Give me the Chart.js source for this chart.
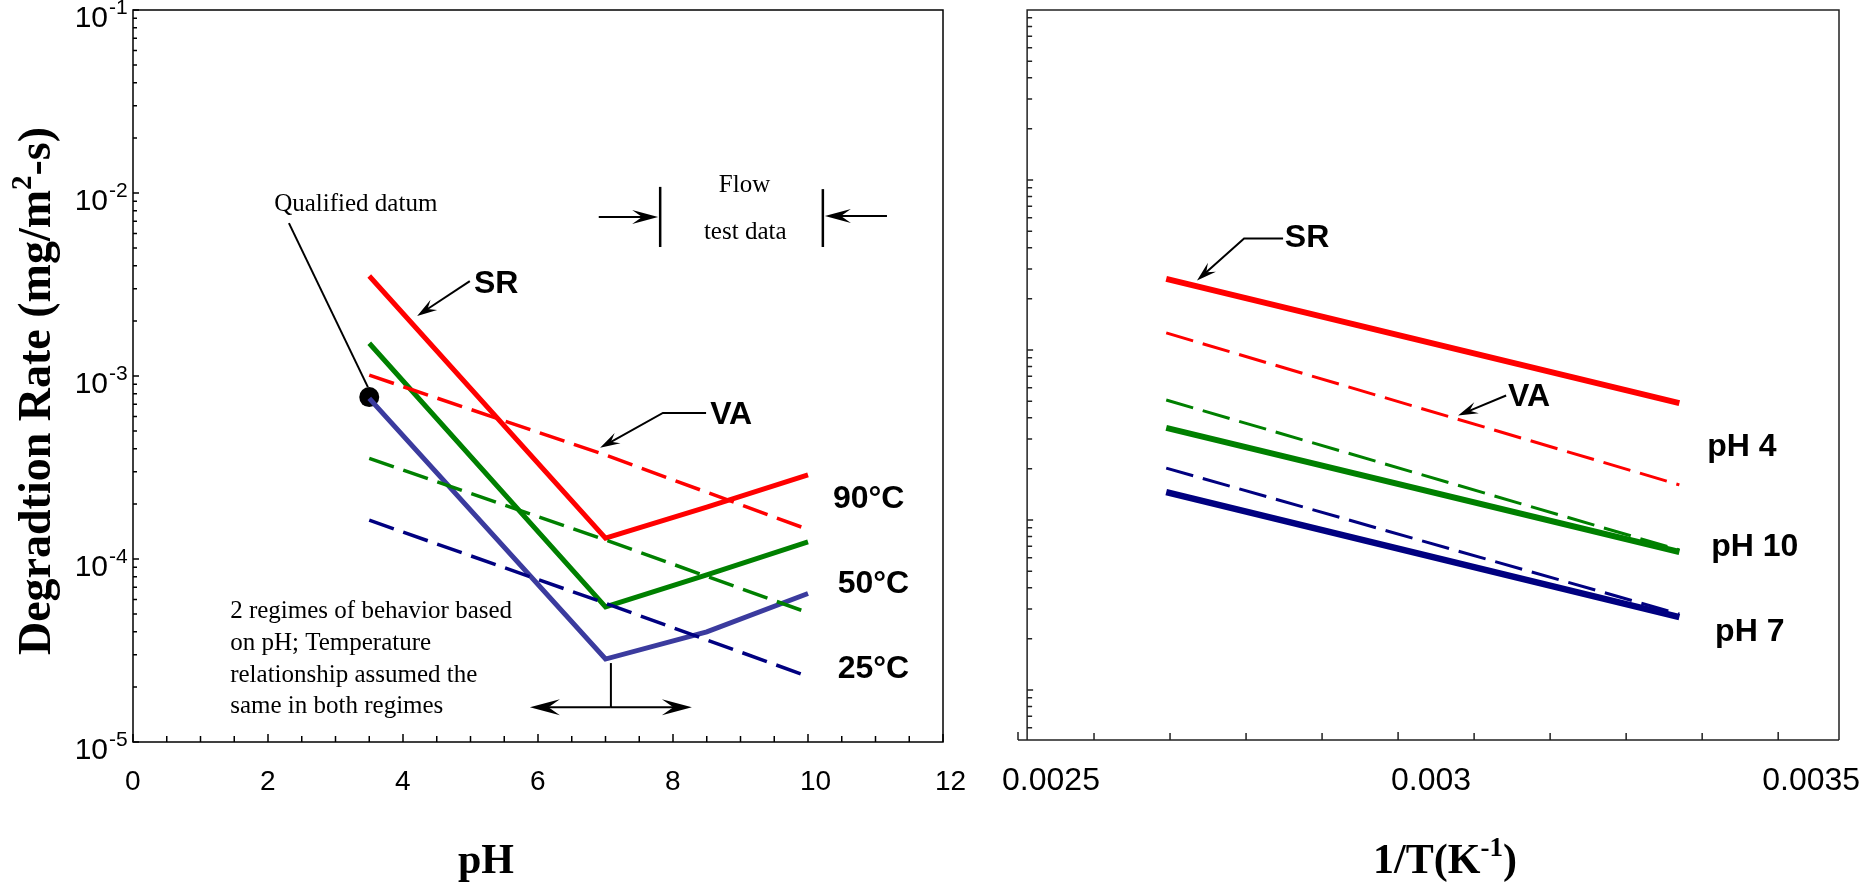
<!DOCTYPE html>
<html>
<head>
<meta charset="utf-8">
<script src="https://cdn.jsdelivr.net/npm/chart.js@4.4.1/dist/chart.umd.min.js"></script>
<style>
  html, body { margin: 0; padding: 0; background: #fff; }
  #wrap { position: relative; width: 1873px; height: 882px; }
  canvas { position: absolute; top: 0; }
  #phChart { left: 0; }
  #tempChart { left: 980px; }
</style>
</head>
<body>
<div id="wrap">
  <canvas id="phChart" width="980" height="882"></canvas>
  <canvas id="tempChart" width="893" height="882"></canvas>
</div>
<script>
// ===== DATA : left panel, rate vs pH =====
const srPh = [3.5, 7.0, 8.5, 10.0];
const sr90 = [3.52e-3, 1.30e-4, 1.92e-4, 2.88e-4];
const sr50 = [1.51e-3, 5.48e-5, 8.2e-5, 1.24e-4];
const sr25 = [7.55e-4, 2.84e-5, 4.0e-5, 6.48e-5];
const vaPh = [3.5, 7.0, 10.0];
const va90 = [1.01e-3, 3.70e-4, 1.45e-4];
const va50 = [3.55e-4, 1.27e-4, 5.09e-5];
const va25 = [1.63e-4, 5.73e-5, 2.28e-5];
const datumPh = [3.5];
const datumRate = [7.67e-4];

// ===== DATA : right panel, rate vs 1/T =====
const invT = [0.002695, 0.00337];
const srPh4 = [2.62e-3, 4.87e-4];
const vaPh4 = [1.26e-3, 1.61e-4];
const srPh10 = [3.48e-4, 6.48e-5];
const vaPh10 = [5.08e-4, 6.66e-5];
const srPh7 = [1.46e-4, 2.68e-5];
const vaPh7 = [2.02e-4, 2.80e-5];

// ===== TICK LABELS =====
const phTickLabels = ['0', '2', '4', '6', '8', '10', '12'];
const invTTickLabels = ['0.0025', '0.003', '0.0035'];
const rateExponents = ['-1', '-2', '-3', '-4', '-5'];

const SANS = '"Liberation Sans", Arial, sans-serif';
const SERIF = '"Liberation Serif", "Times New Roman", serif';
const RED = '#ff0000', GREEN = '#008000', SLATE = '#3b3b9e', NAVY = '#000080';

function pts(xs, ys) {
    return xs.map((x, i) => ({ x: x, y: ys[i] }));
}

function line(xs, ys, color, width, dash) {
    return {
        data: pts(xs, ys),
        showLine: true,
        borderColor: color,
        backgroundColor: color,
        borderWidth: width,
        borderDash: dash || [],
        pointRadius: 0,
        tension: 0
    };
}

function drawRich(ctx, parts, x, y, align) {
    let w = 0;
    parts.forEach(p => { ctx.font = p.font; p.w = ctx.measureText(p.t).width; w += p.w; });
    let cx = align === 'center' ? x - w / 2 : (align === 'right' ? x - w : x);
    ctx.textAlign = 'left';
    parts.forEach(p => { ctx.font = p.font; ctx.fillText(p.t, cx, y + (p.dy || 0)); cx += p.w; });
}

function arrowHead(ctx, x0, y0, x1, y1, len, half) {
    const a = Math.atan2(y1 - y0, x1 - x0);
    ctx.save();
    ctx.translate(x1, y1);
    ctx.rotate(a);
    ctx.beginPath();
    ctx.moveTo(0, 0);
    ctx.lineTo(-len, -half);
    ctx.lineTo(-len * 0.62, 0);
    ctx.lineTo(-len, half);
    ctx.closePath();
    ctx.fill();
    ctx.restore();
}

function drawNotes(chart, notes) {
    const { ctx, scales: { x, y } } = chart;
    ctx.save();
    ctx.fillStyle = '#000';
    ctx.strokeStyle = '#000';
    notes.forEach(n => {
        if (n.kind === 'text') {
            ctx.font = n.font;
            ctx.textAlign = n.align || 'left';
            ctx.textBaseline = 'alphabetic';
            ctx.fillText(n.text, x.getPixelForValue(n.x), y.getPixelForValue(n.y));
        } else {
            const p = n.pts.map(q => [x.getPixelForValue(q[0]), y.getPixelForValue(q[1])]);
            const last = p.length - 1;
            let ex = p[last][0], ey = p[last][1];
            if (n.head) {
                const dx = p[last][0] - p[last - 1][0], dy = p[last][1] - p[last - 1][1];
                const d = Math.hypot(dx, dy);
                ex -= dx / d * n.head[0] * 0.6;
                ey -= dy / d * n.head[0] * 0.6;
            }
            ctx.lineWidth = n.w;
            ctx.beginPath();
            ctx.moveTo(p[0][0], p[0][1]);
            for (let i = 1; i < last; i++) ctx.lineTo(p[i][0], p[i][1]);
            ctx.lineTo(ex, ey);
            ctx.stroke();
            if (n.head) arrowHead(ctx, p[last - 1][0], p[last - 1][1], p[last][0], p[last][1], n.head[0], n.head[1]);
        }
    });
    ctx.restore();
}

// ===== ANNOTATIONS (data coordinates) =====
const leftNotes = [
    { kind: 'text', x: 3.30, y: 7.98e-3, text: 'Qualified datum', font: '25px ' + SERIF, align: 'center' },
    { kind: 'path', pts: [[2.31, 6.85e-3], [3.48, 8.7e-4]], w: 2 },
    { kind: 'text', x: 5.05, y: 2.84e-3, text: 'SR', font: 'bold 32px ' + SANS },
    { kind: 'path', pts: [[4.99, 3.30e-3], [4.21, 2.13e-3]], w: 2, head: [20, 6] },
    { kind: 'text', x: 8.55, y: 5.47e-4, text: 'VA', font: 'bold 32px ' + SANS },
    { kind: 'path', pts: [[8.49, 6.28e-4], [7.85, 6.28e-4], [6.92, 4.05e-4]], w: 2, head: [20, 6] },
    { kind: 'text', x: 9.06, y: 1.01e-2, text: 'Flow', font: '25px ' + SERIF, align: 'center' },
    { kind: 'text', x: 9.07, y: 5.61e-3, text: 'test data', font: '25px ' + SERIF, align: 'center' },
    { kind: 'path', pts: [[7.81, 1.08e-2], [7.81, 5.07e-3]], w: 2.5 },
    { kind: 'path', pts: [[10.22, 1.05e-2], [10.22, 5.07e-3]], w: 2.5 },
    { kind: 'path', pts: [[6.90, 7.40e-3], [7.78, 7.40e-3]], w: 2, head: [26, 7] },
    { kind: 'path', pts: [[11.17, 7.48e-3], [10.25, 7.48e-3]], w: 2, head: [26, 7] },
    { kind: 'text', x: 10.37, y: 1.90e-4, text: '90°C', font: 'bold 32px ' + SANS },
    { kind: 'text', x: 10.44, y: 6.52e-5, text: '50°C', font: 'bold 32px ' + SANS },
    { kind: 'text', x: 10.44, y: 2.24e-5, text: '25°C', font: 'bold 32px ' + SANS },
    { kind: 'text', x: 1.44, y: 4.76e-5, text: '2 regimes of behavior based', font: '25px ' + SERIF },
    { kind: 'text', x: 1.44, y: 3.18e-5, text: 'on pH; Temperature', font: '25px ' + SERIF },
    { kind: 'text', x: 1.44, y: 2.13e-5, text: 'relationship assumed the', font: '25px ' + SERIF },
    { kind: 'text', x: 1.44, y: 1.44e-5, text: 'same in both regimes', font: '25px ' + SERIF },
    { kind: 'path', pts: [[7.08, 2.70e-5], [7.08, 1.55e-5]], w: 2 },
    { kind: 'path', pts: [[7.08, 1.55e-5], [5.88, 1.55e-5]], w: 2, head: [30, 8] },
    { kind: 'path', pts: [[7.08, 1.55e-5], [8.28, 1.55e-5]], w: 2, head: [30, 8] }
];

const rightNotes = [
    { kind: 'text', x: 0.002851, y: 4.01e-3, text: 'SR', font: 'bold 32px ' + SANS },
    { kind: 'path', pts: [[0.0028487, 4.53e-3], [0.0027974, 4.53e-3], [0.0027355, 2.56e-3]], w: 2, head: [20, 6] },
    { kind: 'text', x: 0.0031447, y: 4.66e-4, text: 'VA', font: 'bold 32px ' + SANS },
    { kind: 'path', pts: [[0.0031421, 5.40e-4], [0.0030789, 4.12e-4]], w: 2, head: [20, 6] },
    { kind: 'text', x: 0.0034066, y: 2.39e-4, text: 'pH 4', font: 'bold 32px ' + SANS },
    { kind: 'text', x: 0.0034118, y: 6.18e-5, text: 'pH 10', font: 'bold 32px ' + SANS },
    { kind: 'text', x: 0.003417, y: 1.93e-5, text: 'pH 7', font: 'bold 32px ' + SANS }
];

// ===== LEFT FRAME: box, inward ticks, labels, titles =====
const phFrame = {
    id: 'phFrame',
    afterDatasetsDraw(chart) {
        const { ctx, chartArea: a, scales: { x, y } } = chart;
        ctx.save();
        ctx.strokeStyle = '#000';
        ctx.fillStyle = '#000';
        ctx.lineWidth = 1.5;
        ctx.strokeRect(a.left, a.top, a.right - a.left, a.bottom - a.top);

        ctx.beginPath();
        for (let e = -5; e <= -1; e++) {
            for (let k = 1; k <= 9; k++) {
                const v = k * Math.pow(10, e);
                if (v > y.max * 1.0001) break;
                const py = y.getPixelForValue(v);
                ctx.moveTo(a.left, py);
                ctx.lineTo(a.left + (k === 1 ? 6 : 4), py);
            }
        }
        for (let i = 0; i <= 24; i++) {
            const px = x.getPixelForValue(i * 0.5);
            ctx.moveTo(px, a.bottom);
            ctx.lineTo(px, a.bottom - (i % 4 === 0 ? 8 : 6));
        }
        ctx.stroke();

        ctx.textBaseline = 'middle';
        rateExponents.forEach(ex => {
            const py = y.getPixelForValue(Math.pow(10, Number(ex)));
            ctx.font = '30px ' + SANS;
            ctx.textAlign = 'right';
            ctx.fillText('10', a.left - 25, py + 9);
            ctx.font = '21px ' + SANS;
            ctx.textAlign = 'left';
            ctx.fillText(ex, a.left - 24, py - 2);
        });
        ctx.font = '28px ' + SANS;
        ctx.textAlign = 'left';
        phTickLabels.forEach(t => {
            ctx.fillText(t, x.getPixelForValue(Number(t)) - 8, a.bottom + 40);
        });

        drawRich(ctx, [{ t: 'pH', font: 'bold 42px ' + SERIF }], 486, 862, 'center');
        ctx.save();
        ctx.translate(38, 391);
        ctx.rotate(-Math.PI / 2);
        drawRich(ctx, [
            { t: 'Degradtion Rate (mg/m', font: 'bold 46px ' + SERIF },
            { t: '2', font: 'bold 29px ' + SERIF, dy: -14 },
            { t: '-s)', font: 'bold 46px ' + SERIF }
        ], 0, 0, 'center');
        ctx.restore();
        ctx.restore();

        drawNotes(chart, leftNotes);
    }
};

// ===== RIGHT FRAME =====
const tempFrame = {
    id: 'tempFrame',
    afterDatasetsDraw(chart) {
        const { ctx, chartArea: a, scales: { x, y } } = chart;
        const axisX = x.getPixelForValue(0.002512);
        ctx.save();
        ctx.strokeStyle = '#222';
        ctx.fillStyle = '#000';
        ctx.lineWidth = 1.5;
        ctx.beginPath();
        ctx.moveTo(axisX, a.bottom);
        ctx.lineTo(axisX, a.top);
        ctx.lineTo(a.right, a.top);
        ctx.lineTo(a.right, a.bottom);
        ctx.moveTo(a.left, a.bottom);
        ctx.lineTo(a.right, a.bottom);
        for (let e = -6; e <= -1; e++) {
            for (let k = 1; k <= 9; k++) {
                const v = k * Math.pow(10, e);
                if (v < y.min || v > y.max * 1.0001) continue;
                const py = y.getPixelForValue(v);
                ctx.moveTo(axisX, py);
                ctx.lineTo(axisX + (k === 1 ? 6 : 5), py);
            }
        }
        for (let i = 25; i <= 35; i++) {
            const px = x.getPixelForValue(i / 10000);
            ctx.moveTo(px, a.bottom);
            ctx.lineTo(px, a.bottom - (i % 5 === 0 ? 8 : 7));
        }
        ctx.stroke();

        ctx.font = '32px ' + SANS;
        ctx.textAlign = 'center';
        ctx.textBaseline = 'middle';
        invTTickLabels.forEach(t => {
            ctx.fillText(t, x.getPixelForValue(Number(t)) + 33, a.bottom + 41);
        });

        drawRich(ctx, [
            { t: '1/T(K', font: 'bold 42px ' + SERIF },
            { t: '-1', font: 'bold 27px ' + SERIF, dy: -13 },
            { t: ')', font: 'bold 42px ' + SERIF }
        ], 465, 862, 'center');
        ctx.restore();

        drawNotes(chart, rightNotes);
    }
};

const common = {
    responsive: false,
    animation: false,
    devicePixelRatio: 1,
    plugins: { legend: { display: false }, tooltip: { enabled: false } }
};

// ===== LEFT CHART =====
const phDatum = line(datumPh, datumRate, '#000', 0);
phDatum.showLine = false;
phDatum.pointRadius = 10;
phDatum.pointBackgroundColor = '#000';

new Chart(document.getElementById('phChart').getContext('2d'), {
    type: 'scatter',
    data: {
        datasets: [
            line(vaPh, va90, RED, 3.5, [26, 10]),
            line(vaPh, va50, GREEN, 3.5, [26, 10]),
            line(vaPh, va25, NAVY, 3.5, [26, 10]),
            line(srPh, sr90, RED, 5),
            line(srPh, sr50, GREEN, 5),
            line(srPh, sr25, SLATE, 5),
            phDatum
        ]
    },
    options: Object.assign({}, common, {
        layout: { padding: { left: 133, right: 37, top: 10, bottom: 140 } },
        scales: {
            x: { type: 'linear', display: false, min: 0, max: 12 },
            y: { type: 'logarithmic', display: false, min: 1e-5, max: 1e-1 }
        }
    }),
    plugins: [phFrame]
});

// ===== RIGHT CHART =====
new Chart(document.getElementById('tempChart').getContext('2d'), {
    type: 'scatter',
    data: {
        datasets: [
            line(invT, vaPh4, RED, 3, [28, 10]),
            line(invT, vaPh10, GREEN, 3, [28, 10]),
            line(invT, vaPh7, NAVY, 3, [28, 10]),
            line(invT, srPh4, RED, 6),
            line(invT, srPh10, GREEN, 6),
            line(invT, srPh7, NAVY, 6.5)
        ]
    },
    options: Object.assign({}, common, {
        layout: { padding: { left: 38, right: 34, top: 10, bottom: 142 } },
        scales: {
            x: { type: 'linear', display: false, min: 0.0025, max: 0.00358 },
            y: { type: 'logarithmic', display: false, min: 5.08e-6, max: 1e-1 }
        }
    }),
    plugins: [tempFrame]
});
</script>
</body>
</html>
